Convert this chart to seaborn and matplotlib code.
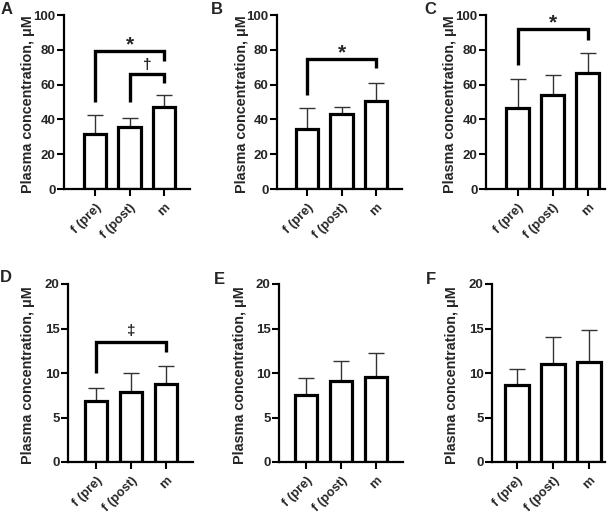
import matplotlib
matplotlib.use("Agg")
import matplotlib.pyplot as plt
import seaborn as sns
import numpy as np

sns.set_style("ticks")
plt.rcParams['font.family'] = ['Liberation Sans', 'DejaVu Sans']
plt.rcParams['font.weight'] = 'bold'

groups = ['f (pre)', 'f (post)', 'm']
panel_letters = ['A', 'B', 'C', 'D', 'E', 'F']

# means and upper error (SD)
mean_a = [31.5, 35.5, 47.0]
err_a = [11.0, 5.5, 7.0]
mean_b = [34.5, 43.0, 50.5]
err_b = [12.0, 4.0, 10.5]
mean_c = [46.5, 54.0, 66.5]
err_c = [17.0, 11.5, 11.5]
mean_d = [6.8, 7.85, 8.75]
err_d = [1.5, 2.15, 2.05]
mean_e = [7.5, 9.15, 9.55]
err_e = [1.9, 2.25, 2.75]
mean_f = [8.7, 11.0, 11.2]
err_f = [1.8, 3.0, 3.6]

# y limits and ticks
ylim_top = [100, 100, 100, 20, 20, 20]
ytick_step = [20, 20, 20, 5, 5, 5]

# significance brackets: (left bar, right bar, line y, left leg end, right leg end, label, label y)
brackets_a = [(0, 2, 79.5, 50, 73.5, '*', 83), (1, 2, 66, 50, 61, '\u2020', 71)]
brackets_b = [(0, 2, 74.7, 54, 69.5, '*', 78.5)]
brackets_c = [(0, 2, 91.8, 71, 85.6, '*', 95.5)]
brackets_d = [(0, 2, 13.45, 10.0, 12.36, '\u2021', 14.7)]

means = [mean_a, mean_b, mean_c, mean_d, mean_e, mean_f]
errs = [err_a, err_b, err_c, err_d, err_e, err_f]
brackets = [brackets_a, brackets_b, brackets_c, brackets_d, [], []]

# axes placement in pixels (left, right, top, bottom) and x limits
W, H = 616, 514
boxes = [(64, 190, 15, 189), (277, 402, 15, 189), (486, 605, 15, 189),
         (68, 193, 284, 462), (279, 403, 284, 462), (492, 605, 284, 462)]
xlims = [(-0.9, 2.75), (-0.87, 2.75), (-0.91, 2.49),
         (-0.8, 2.77), (-0.77, 2.77), (-0.69, 2.44)]
letter_pos = [(7, 10), (217, 10), (430, 10), (6, 278), (219, 279), (431, 279)]
ylabel_x = [28, 242, 450, 28, 240, 452]

fig = plt.figure(figsize=(W / 100, H / 100), dpi=100)

for i in range(6):
    l, r, t, b = boxes[i]
    ax = fig.add_axes([l / W, 1 - b / H, (r - l) / W, (b - t) / H])
    x = np.arange(3)
    ax.errorbar(x, means[i], yerr=[np.zeros(3), errs[i]], fmt='none',
                ecolor='#333333', elinewidth=1.0, capsize=5.5, capthick=1.0, zorder=1)
    sns.barplot(x=groups, y=means[i], color='white', edgecolor='black',
                linewidth=2.3, width=0.65, ax=ax, zorder=2, errorbar=None)
    for p in ax.patches:
        p.set_zorder(2)
    for (x0, x1, yl, y0, y1, lab, ly) in brackets[i]:
        ax.plot([x0, x0, x1, x1], [y0, yl, yl, y1], color='black', lw=2.4,
                solid_joinstyle='miter', solid_capstyle='butt', clip_on=False)
        ax.text((x0 + x1) / 2, ly, lab, ha='center', va='center',
                fontsize=15 if lab == '*' else 11, fontweight='bold')
    ax.set_xlim(*xlims[i])
    ax.set_ylim(0, ylim_top[i])
    ax.set_yticks(np.arange(0, ylim_top[i] + 1, ytick_step[i]))
    ax.set_xticks(x)
    ax.set_xticklabels(groups, rotation=45, ha='right', rotation_mode='anchor',
                       fontsize=9.3, fontweight='bold')
    for lab in ax.get_yticklabels():
        lab.set_fontsize(9.5)
        lab.set_fontweight('bold')
    ax.tick_params(width=1.5, length=5, color='black')
    ax.tick_params(axis='y', pad=1)
    ax.tick_params(axis='x', pad=4)
    sns.despine(ax=ax)
    for s in ['left', 'bottom']:
        ax.spines[s].set_linewidth(1.6)
        ax.spines[s].set_color('black')
    ax.set_xlabel('')
    ax.set_ylabel('')
    fig.text(ylabel_x[i] / W, 1 - ((t + b) / 2 + 2) / H, 'Plasma concentration, \u03bcM',
             rotation=90, ha='center', va='center', fontsize=10.4, fontweight='bold')
    fig.text(letter_pos[i][0] / W, 1 - letter_pos[i][1] / H, panel_letters[i],
             ha='center', va='center', fontsize=12, fontweight='bold')

fig.savefig('out.png', dpi=100, facecolor='white')
